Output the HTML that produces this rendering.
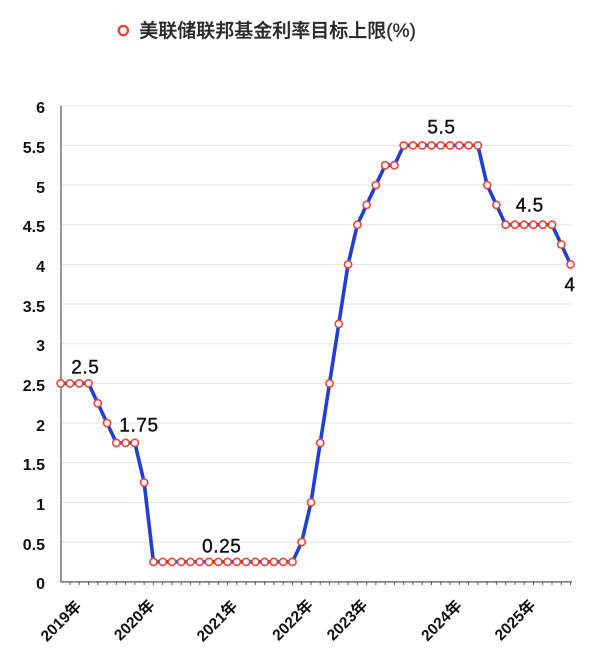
<!DOCTYPE html>
<html>
<head>
<meta charset="utf-8">
<style>
html,body{margin:0;padding:0;background:#fff;}
svg{display:block;}
</style>
</head>
<body>
<svg width="600" height="664" viewBox="0 0 600 664" xmlns="http://www.w3.org/2000/svg">
  <rect width="600" height="664" fill="#fff"/>
  <!-- title -->
  <circle cx="123.3" cy="30.5" r="4.6" fill="#fff" stroke="#e8412c" stroke-width="2.3"/>
  <text x="139.3" y="37" font-family="'Liberation Sans','Noto Sans CJK SC',sans-serif" font-size="19" font-weight="500" fill="#2a2a2a" stroke="#2a2a2a" stroke-width="0.3">美联储联邦基金利率目标上限(%)</text>

  <!-- gridlines -->
  <g stroke="#e3e3e3" stroke-width="1">
    <line x1="61" y1="542.04" x2="572" y2="542.04"/>
    <line x1="61" y1="502.37" x2="572" y2="502.37"/>
    <line x1="61" y1="462.71" x2="572" y2="462.71"/>
    <line x1="61" y1="423.04" x2="572" y2="423.04"/>
    <line x1="61" y1="383.38" x2="572" y2="383.38"/>
    <line x1="61" y1="343.71" x2="572" y2="343.71"/>
    <line x1="61" y1="304.05" x2="572" y2="304.05"/>
    <line x1="61" y1="264.38" x2="572" y2="264.38"/>
    <line x1="61" y1="224.72" x2="572" y2="224.72"/>
    <line x1="61" y1="185.05" x2="572" y2="185.05"/>
    <line x1="61" y1="145.39" x2="572" y2="145.39"/>
    <line x1="61" y1="105.72" x2="572" y2="105.72"/>
  </g>

  <!-- axes -->
  <line x1="61" y1="105.7" x2="61" y2="582" stroke="#777" stroke-width="1.5"/>
  <line x1="60.3" y1="581.9" x2="572" y2="581.9" stroke="#555" stroke-width="1.3"/>
  <g stroke="#555" stroke-width="1">
    <line x1="69.97" y1="582" x2="69.97" y2="585"/><line x1="79.24" y1="582" x2="79.24" y2="585"/><line x1="88.51" y1="582" x2="88.51" y2="585"/><line x1="97.78" y1="582" x2="97.78" y2="585"/><line x1="107.05" y1="582" x2="107.05" y2="585"/><line x1="116.32" y1="582" x2="116.32" y2="585"/><line x1="125.59" y1="582" x2="125.59" y2="585"/><line x1="134.86" y1="582" x2="134.86" y2="585"/><line x1="144.13" y1="582" x2="144.13" y2="585"/><line x1="153.4" y1="582" x2="153.4" y2="585"/><line x1="162.67" y1="582" x2="162.67" y2="585"/><line x1="171.94" y1="582" x2="171.94" y2="585"/><line x1="181.21" y1="582" x2="181.21" y2="585"/><line x1="190.48" y1="582" x2="190.48" y2="585"/><line x1="199.75" y1="582" x2="199.75" y2="585"/><line x1="209.02" y1="582" x2="209.02" y2="585"/><line x1="218.29" y1="582" x2="218.29" y2="585"/><line x1="227.56" y1="582" x2="227.56" y2="585"/><line x1="236.83" y1="582" x2="236.83" y2="585"/><line x1="246.1" y1="582" x2="246.1" y2="585"/><line x1="255.37" y1="582" x2="255.37" y2="585"/><line x1="264.64" y1="582" x2="264.64" y2="585"/><line x1="273.91" y1="582" x2="273.91" y2="585"/><line x1="283.18" y1="582" x2="283.18" y2="585"/><line x1="292.45" y1="582" x2="292.45" y2="585"/><line x1="301.72" y1="582" x2="301.72" y2="585"/><line x1="310.99" y1="582" x2="310.99" y2="585"/><line x1="320.26" y1="582" x2="320.26" y2="585"/><line x1="329.53" y1="582" x2="329.53" y2="585"/><line x1="338.8" y1="582" x2="338.8" y2="585"/><line x1="348.07" y1="582" x2="348.07" y2="585"/><line x1="357.34" y1="582" x2="357.34" y2="585"/><line x1="366.61" y1="582" x2="366.61" y2="585"/><line x1="375.88" y1="582" x2="375.88" y2="585"/><line x1="385.15" y1="582" x2="385.15" y2="585"/><line x1="394.42" y1="582" x2="394.42" y2="585"/><line x1="403.69" y1="582" x2="403.69" y2="585"/><line x1="412.96" y1="582" x2="412.96" y2="585"/><line x1="422.23" y1="582" x2="422.23" y2="585"/><line x1="431.5" y1="582" x2="431.5" y2="585"/><line x1="440.77" y1="582" x2="440.77" y2="585"/><line x1="450.04" y1="582" x2="450.04" y2="585"/><line x1="459.31" y1="582" x2="459.31" y2="585"/><line x1="468.58" y1="582" x2="468.58" y2="585"/><line x1="477.85" y1="582" x2="477.85" y2="585"/><line x1="487.12" y1="582" x2="487.12" y2="585"/><line x1="496.39" y1="582" x2="496.39" y2="585"/><line x1="505.66" y1="582" x2="505.66" y2="585"/><line x1="514.93" y1="582" x2="514.93" y2="585"/><line x1="524.2" y1="582" x2="524.2" y2="585"/><line x1="533.47" y1="582" x2="533.47" y2="585"/><line x1="542.74" y1="582" x2="542.74" y2="585"/><line x1="552.01" y1="582" x2="552.01" y2="585"/><line x1="561.28" y1="582" x2="561.28" y2="585"/><line x1="570.55" y1="582" x2="570.55" y2="585"/>
  </g>

  <!-- y labels -->
  <g font-family="'Liberation Sans',sans-serif" font-size="16" font-weight="bold" fill="#111" text-anchor="end">
    <text x="45" y="589">0</text>
    <text x="45" y="550">0.5</text>
    <text x="45" y="510">1</text>
    <text x="45" y="470">1.5</text>
    <text x="45" y="431">2</text>
    <text x="45" y="391">2.5</text>
    <text x="45" y="351">3</text>
    <text x="45" y="312">3.5</text>
    <text x="45" y="272">4</text>
    <text x="45" y="232">4.5</text>
    <text x="45" y="193">5</text>
    <text x="45" y="153">5.5</text>
    <text x="45" y="113">6</text>
  </g>

  <!-- x labels -->
  <g font-family="'Liberation Sans','Noto Sans CJK SC',sans-serif" font-size="15.5" font-weight="bold" fill="#111" text-anchor="end">
    <text transform="translate(82.3,607) rotate(-45)">2019年</text>
    <text transform="translate(155.7,606) rotate(-45)">2020年</text>
    <text transform="translate(238.3,607) rotate(-45)">2021年</text>
    <text transform="translate(314,606) rotate(-45)">2022年</text>
    <text transform="translate(368.5,606) rotate(-45)">2023年</text>
    <text transform="translate(462.8,606.5) rotate(-45)">2024年</text>
    <text transform="translate(536.3,606) rotate(-45)">2025年</text>
  </g>

  <!-- series line -->
  <polyline fill="none" stroke="#1f3fd6" stroke-width="3.6" stroke-linejoin="round" stroke-linecap="round"
    points="60.7,383.37 69.97,383.37 79.24,383.37 88.51,383.37 97.78,403.21 107.05,423.04 116.32,442.87 125.59,442.87 134.86,442.87 144.13,482.54 153.4,561.87 162.67,561.87 171.94,561.87 181.21,561.87 190.48,561.87 199.75,561.87 209.02,561.87 218.29,561.87 227.56,561.87 236.83,561.87 246.1,561.87 255.37,561.87 264.64,561.87 273.91,561.87 283.18,561.87 292.45,561.87 301.72,542.04 310.99,502.37 320.26,442.87 329.53,383.37 338.8,323.87 348.07,264.38 357.34,224.71 366.61,204.88 375.88,185.05 385.15,165.21 394.42,165.21 403.69,145.38 412.96,145.38 422.23,145.38 431.5,145.38 440.77,145.38 450.04,145.38 459.31,145.38 468.58,145.38 477.85,145.38 487.12,185.05 496.39,204.88 505.66,224.71 514.93,224.71 524.2,224.71 533.47,224.71 542.74,224.71 552.01,224.71 561.28,244.55 570.55,264.38"/>

  <!-- markers -->
  <g fill="#fff" stroke="#ee4433" stroke-width="1.6">
    <circle cx="60.7" cy="383.37" r="3.6"/><circle cx="69.97" cy="383.37" r="3.6"/><circle cx="79.24" cy="383.37" r="3.6"/><circle cx="88.51" cy="383.37" r="3.6"/><circle cx="97.78" cy="403.21" r="3.6"/><circle cx="107.05" cy="423.04" r="3.6"/><circle cx="116.32" cy="442.87" r="3.6"/><circle cx="125.59" cy="442.87" r="3.6"/><circle cx="134.86" cy="442.87" r="3.6"/><circle cx="144.13" cy="482.54" r="3.6"/><circle cx="153.4" cy="561.87" r="3.6"/><circle cx="162.67" cy="561.87" r="3.6"/><circle cx="171.94" cy="561.87" r="3.6"/><circle cx="181.21" cy="561.87" r="3.6"/><circle cx="190.48" cy="561.87" r="3.6"/><circle cx="199.75" cy="561.87" r="3.6"/><circle cx="209.02" cy="561.87" r="3.6"/><circle cx="218.29" cy="561.87" r="3.6"/><circle cx="227.56" cy="561.87" r="3.6"/><circle cx="236.83" cy="561.87" r="3.6"/><circle cx="246.1" cy="561.87" r="3.6"/><circle cx="255.37" cy="561.87" r="3.6"/><circle cx="264.64" cy="561.87" r="3.6"/><circle cx="273.91" cy="561.87" r="3.6"/><circle cx="283.18" cy="561.87" r="3.6"/><circle cx="292.45" cy="561.87" r="3.6"/><circle cx="301.72" cy="542.04" r="3.6"/><circle cx="310.99" cy="502.37" r="3.6"/><circle cx="320.26" cy="442.87" r="3.6"/><circle cx="329.53" cy="383.37" r="3.6"/><circle cx="338.8" cy="323.87" r="3.6"/><circle cx="348.07" cy="264.38" r="3.6"/><circle cx="357.34" cy="224.71" r="3.6"/><circle cx="366.61" cy="204.88" r="3.6"/><circle cx="375.88" cy="185.05" r="3.6"/><circle cx="385.15" cy="165.21" r="3.6"/><circle cx="394.42" cy="165.21" r="3.6"/><circle cx="403.69" cy="145.38" r="3.6"/><circle cx="412.96" cy="145.38" r="3.6"/><circle cx="422.23" cy="145.38" r="3.6"/><circle cx="431.5" cy="145.38" r="3.6"/><circle cx="440.77" cy="145.38" r="3.6"/><circle cx="450.04" cy="145.38" r="3.6"/><circle cx="459.31" cy="145.38" r="3.6"/><circle cx="468.58" cy="145.38" r="3.6"/><circle cx="477.85" cy="145.38" r="3.6"/><circle cx="487.12" cy="185.05" r="3.6"/><circle cx="496.39" cy="204.88" r="3.6"/><circle cx="505.66" cy="224.71" r="3.6"/><circle cx="514.93" cy="224.71" r="3.6"/><circle cx="524.2" cy="224.71" r="3.6"/><circle cx="533.47" cy="224.71" r="3.6"/><circle cx="542.74" cy="224.71" r="3.6"/><circle cx="552.01" cy="224.71" r="3.6"/><circle cx="561.28" cy="244.55" r="3.6"/><circle cx="570.55" cy="264.38" r="3.6"/>
  </g>

  <!-- data labels -->
  <g font-family="'Liberation Sans',sans-serif" font-size="19" fill="#111" text-anchor="middle" stroke="#111" stroke-width="0.4" letter-spacing="0.6">
    <text x="85.3" y="373.5">2.5</text>
    <text x="139" y="431.7">1.75</text>
    <text x="221.8" y="552.5">0.25</text>
    <text x="441.5" y="133.5">5.5</text>
    <text x="529.7" y="211.7">4.5</text>
    <text x="570" y="291">4</text>
  </g>
</svg>
</body>
</html>
